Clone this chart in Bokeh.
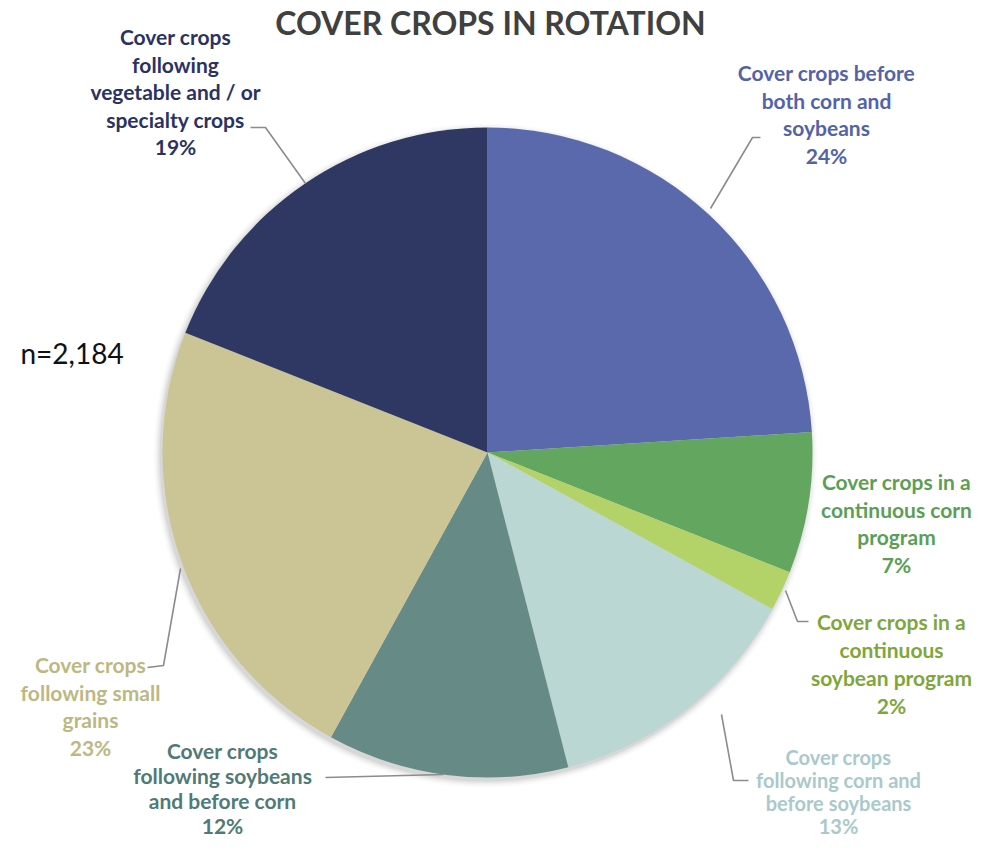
import numpy as np
from bokeh.plotting import figure
from bokeh.models import Range1d, ColumnDataSource
from bokeh.core.properties import value
from bokeh.embed import file_html
from bokeh.resources import INLINE

# ---------------- data ----------------
categories = [
    "Cover crops before both corn and soybeans",
    "Cover crops in a continuous corn program",
    "Cover crops in a continuous soybean program",
    "Cover crops following corn and before soybeans",
    "Cover crops following soybeans and before corn",
    "Cover crops following small grains",
    "Cover crops following vegetable and / or specialty crops",
]
shares = [24, 7, 2, 13, 12, 23, 19]
label_lines = [
    ["Cover crops before", "both corn and", "soybeans"],
    ["Cover crops in a", "continuous corn", "program"],
    ["Cover crops in a", "continuous", "soybean program"],
    ["Cover crops", "following corn and", "before soybeans"],
    ["Cover crops", "following soybeans", "and before corn"],
    ["Cover crops", "following small", "grains"],
    ["Cover crops", "following", "vegetable and / or", "specialty crops"],
]
title = "COVER CROPS IN ROTATION"
n_note = "n=2,184"

# ---------------- styles ----------------
slice_colors = ["#5A69AB", "#63A65F", "#B3D267", "#BAD7D3", "#668B87", "#CBC596", "#2E3862"]
label_colors = ["#5462A8", "#5A9F55", "#7FA63A", "#A9C9CC", "#4F7A76", "#BDB882", "#2B3262"]

W, H = 976, 838
FONT = "Lato"


def X(xi):
    return xi


def Y(yi):
    return H - yi


p = figure(width=W, height=H, x_range=Range1d(0, W), y_range=Range1d(0, H),
           output_backend="svg", toolbar_location=None, min_border=0,
           x_axis_type=None, y_axis_type=None, outline_line_color=None)
p.xgrid.visible = False
p.ygrid.visible = False

# pie geometry
cx, cy, R = X(487), Y(452), 325

fr = np.array(shares, dtype=float) / sum(shares)
cum = np.concatenate([[0], np.cumsum(fr)])
start = np.pi / 2 - 2 * np.pi * cum[1:]
end = np.pi / 2 - 2 * np.pi * cum[:-1]

# soft shadow
for i, a in enumerate([0.05, 0.04, 0.03, 0.02, 0.015]):
    p.circle(x=cx - 2, y=cy - 3, radius=R + 1 + i * 1.5, fill_color="#000000",
             fill_alpha=a, line_color=None)

src = ColumnDataSource(dict(cat=categories, share=shares, start=start, end=end,
                            color=slice_colors))
p.wedge(x=cx, y=cy, radius=R, start_angle="start", end_angle="end",
        direction="anticlock", fill_color="color", line_color=None, source=src)

# leader lines (image coordinates)
leaders = [
    [(710, 208), (752, 137), (760, 137)],
    None,
    [(785, 590), (797, 621), (808, 621)],
    [(721, 714), (733, 780), (748, 780)],
    [(443, 774), (325, 777)],
    [(180, 568), (163, 665), (147, 667)],
    [(305, 183), (265, 127), (250, 127)],
]
for ld in leaders:
    if ld is None:
        continue
    p.line(x=[X(a) for a, b in ld], y=[Y(b) for a, b in ld], line_color="#8C8C8C",
           line_width=1.6)

# label anchors: (center x, first line y, line height, font px) in image coords
anchors = [(826, 72, 27.5, 21), (896, 481, 27.5, 21), (891, 621, 28, 21),
           (838, 756, 23.3, 20), (222, 750, 25, 21), (90, 664, 27.5, 21),
           (175, 36, 27.5, 21)]
tx, ty, tt, tc, tf = [], [], [], [], []
for lines, s, (ax, ay, lh, fs), col in zip(label_lines, shares, anchors, label_colors):
    all_lines = lines + [f"{s}%"]
    for k, ln in enumerate(all_lines):
        tx.append(X(ax))
        ty.append(Y(ay + k * lh))
        tt.append(ln)
        tc.append(col)
        tf.append(f"{fs}px")
lsrc = ColumnDataSource(dict(x=tx, y=ty, text=tt, color=tc, fs=tf))
p.text(x="x", y="y", text="text", text_color="color", source=lsrc,
       text_align="center", text_baseline="middle", text_font=value(FONT),
       text_font_style="bold", text_font_size="fs")

# title
p.text(x=[X(490)], y=[Y(22)], text=[title], text_align="center", text_baseline="middle",
       text_font=value(FONT), text_font_style="bold", text_font_size="32px",
       text_color="#404040")

# n note
p.text(x=[X(20)], y=[Y(352)], text=[n_note], text_align="left", text_baseline="middle",
       text_font=value(FONT), text_font_size="28px", text_color="#111111")

open("out.html", "w").write(file_html(p, INLINE))
